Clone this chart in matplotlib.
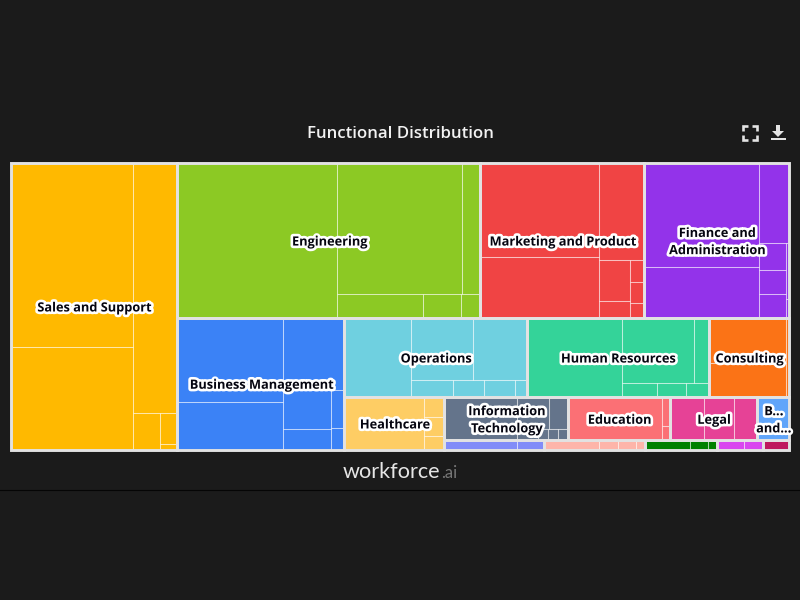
import matplotlib
matplotlib.use("Agg")
import matplotlib.pyplot as plt
from matplotlib.patches import Rectangle, Polygon
import matplotlib.patheffects as pe

names = ["Sales and Support", "Engineering", "Marketing and Product",
         "Finance and\nAdministration", "Business Management", "Operations",
         "Human Resources", "Consulting", "Healthcare",
         "Information\nTechnology", "Education", "Legal", "B...\nand...",
         "", "", "", "", ""]
colors = ["#ffb900", "#8cc924", "#f04444", "#9333ea", "#3b82f6", "#6fd0e0",
          "#34d399", "#fb7316", "#fecd64", "#64748b", "#fb7075", "#e64296",
          "#60a5fa", "#818cf8", "#fdb5aa", "#008000", "#d946ef", "#be185d"]
sales = [22595, 12575, 11050, 983, 533, 93]
engineering = [24643, 16337, 2418, 2054, 897, 464]
marketing = [11132, 7223, 4352, 1259, 516, 310, 309, 207]
finance = [11898, 5777, 2415, 737, 648, 635, 184, 63]
business = [8889, 4986, 4448, 1910, 991, 490, 286]
operations = [5327, 3875, 3338, 714, 522, 522, 204]
human_resources = [7552, 4716, 983, 498, 406, 314]
consulting = [3484, 2685, 215]
healthcare = [4160, 412, 391, 276]
information_tech = [3139, 1005, 627, 224, 112, 112, 112]
education = [4029, 221, 110]
legal = [1462, 1316, 976]
b_and = [1376]
periwinkle = [683, 257]
salmon = [517, 173, 169, 87]
green = [426, 169, 89]
magenta = [249, 179]
crimson = [245]
groups = [sales, engineering, marketing, finance, business, operations,
          human_resources, consulting, healthcare, information_tech, education,
          legal, b_and, periwinkle, salmon, green, magenta, crimson]

BG = "#1b1b1b"
PLOT = (10.5, 163.3, 778.5, 286.4)


def aspect(a, b):
    return max(a / b, b / a)


def squarify(values, rect):
    """Low-aspect-ratio layout: rows alternate direction; a row closes when
    adding a value worsens the aspect ratio of the previous value."""
    x0, y0, W, H = rect
    total_val = sum(values)
    areas = [v / total_val * W * H for v in values]
    out = []
    x, y, w, h = x0, y0, W, H
    direction = 0
    row = []

    def flush(items):
        nonlocal x, y, w, h, direction
        s = sum(items)
        if direction == 0:
            cw = s / h
            py = y
            for a in items:
                out.append((x, py, cw, a / cw))
                py += a / cw
            x += cw
            w -= cw
        else:
            ch = s / w
            px = x
            for a in items:
                out.append((px, y, a / ch, ch))
                px += a / ch
            y += ch
            h -= ch
        direction = 1 - direction

    for a in areas:
        if row:
            prev = row[-1]
            s = sum(row)
            if direction == 0:
                old_w = s / h
                new_w = (s + a) / h
                worse = aspect(new_w, prev / new_w) > aspect(old_w, prev / old_w)
            else:
                old_h = s / w
                new_h = (s + a) / w
                worse = aspect(prev / new_h, new_h) > aspect(prev / old_h, old_h)
            if worse:
                flush(row)
                row = []
        row.append(a)
    if row:
        flush(row)
    return out


fig = plt.figure(figsize=(8, 6), dpi=100, facecolor=BG)
ax = fig.add_axes([0, 0, 1, 1])
ax.set_xlim(0, 800)
ax.set_ylim(600, 0)
ax.axis("off")

tops = squarify([sum(g) for g in groups], PLOT)
for group, top, color, name in zip(groups, tops, colors, names):
    ax.add_patch(Rectangle(top[:2], top[2], top[3], fc=color, ec="none", zorder=1))
    for r in squarify(group, top):
        ax.add_patch(Rectangle(r[:2], r[2], r[3], fc="none",
                               ec=(1, 1, 1, 0.42), lw=0.75, zorder=2))
for top in tops:
    ax.add_patch(Rectangle(top[:2], top[2], top[3], fc="none", ec="#e2e2e2",
                           lw=2.1, zorder=3, joinstyle="miter"))
for top, name in zip(tops, names):
    if name:
        ax.text(top[0] + top[2] / 2 + 0.7, top[1] + top[3] / 2 + 1.5, name,
                color="#050510", fontsize=9.2, fontweight="bold", family="Open Sans",
                ha="center", va="center", linespacing=1.42, zorder=5,
                path_effects=[pe.withStroke(linewidth=3.8, foreground="white")])

ax.text(400.5, 133.5, "Functional Distribution", color="#f2f2f2", fontsize=12.1,
        family="Open Sans", fontweight="semibold", ha="center", va="center")

# logo
t1 = ax.text(343, 472.5, "workforce", color="#e6e6e6", fontsize=15.6, family="Lato",
             ha="left", va="center")
fig.canvas.draw()
bb = t1.get_window_extent()
ax.text(bb.x1 + 0.5, 473.5, ".ai", color="#777777", fontsize=12, family="Lato",
        ha="left", va="center")
ax.axhline(489.5, color="#050505", lw=0.8)

# icons
ic = "#e4e4e4"
L, R, T, B, n = 742.5, 756.5, 125.5, 139.5, 5
for xs, ys in [((L, L, L + n), (T + n, T, T)), ((R - n, R, R), (T, T, T + n)),
               ((L, L, L + n), (B - n, B, B)), ((R - n, R, R), (B, B, B - n))]:
    ax.plot(xs, ys, color=ic, lw=1.9, solid_capstyle="butt", solid_joinstyle="miter")
ax.add_patch(Polygon([(776, 125), (780, 125), (780, 131), (784, 131), (778, 137),
                      (772, 131), (776, 131)], fc=ic, ec="none"))
ax.add_patch(Rectangle((770.5, 137.5), 15, 2.5, fc=ic, ec="none"))

fig.savefig("out.png", dpi=100, facecolor=BG)
